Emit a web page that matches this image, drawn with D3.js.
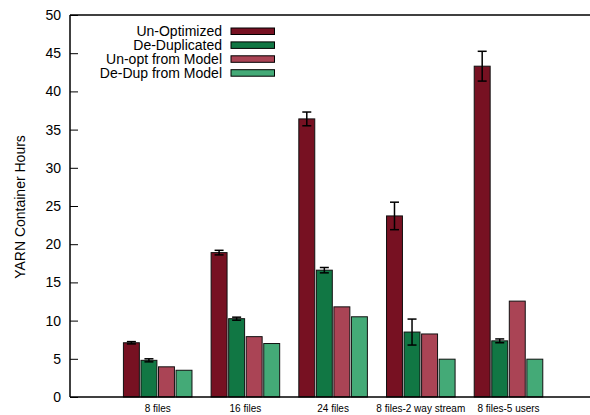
<!DOCTYPE html>
<html>
<head>
<meta charset="utf-8">
<script src="https://cdn.jsdelivr.net/npm/d3@7"></script>
<style>
  html, body { margin: 0; padding: 0; background: #fff; }
  svg { display: block; font-family: "Liberation Sans", Arial, Helvetica, sans-serif; }
</style>
</head>
<body>
<svg id="chart" width="590" height="415"></svg>
<script>
// Workload categories along the x axis
const categories = ["8 files", "16 files", "24 files", "8 files-2 way stream", "8 files-5 users"];

// Series names and their container-hour values (with error half-widths)
const seriesNames = ["Un-Optimized", "De-Duplicated", "Un-opt from Model", "De-Dup from Model"];
const unOptimized   = [7.1, 18.9, 36.4, 23.7, 43.3];
const unOptErr      = [0.15, 0.3, 0.9, 1.8, 1.95];
const deDuplicated  = [4.8, 10.25, 16.6, 8.5, 7.35];
const deDupErr      = [0.2, 0.2, 0.35, 1.7, 0.25];
const unOptModel    = [3.95, 7.9, 11.8, 8.25, 12.55];
const deDupModel    = [3.5, 7.0, 10.5, 4.95, 4.95];

const yTicks = [0, 5, 10, 15, 20, 25, 30, 35, 40, 45, 50];
const colors = ["#771122", "#117744", "#aa4455", "#44aa77"];

const series = [
  { name: seriesNames[0], values: unOptimized, errors: unOptErr },
  { name: seriesNames[1], values: deDuplicated, errors: deDupErr },
  { name: seriesNames[2], values: unOptModel, errors: null },
  { name: seriesNames[3], values: deDupModel, errors: null }
];

const svg = d3.select("#chart");
const plotLeft = 70, plotTop = 15, plotBottom = 397;

// x is a numeric category index; the frame spans index -1 to 5
const x = d3.scaleLinear().domain([-1, 5]).range([plotLeft, 596.2]);
const y = d3.scaleLinear().domain([0, 50]).range([plotBottom, plotTop]);
const barUnits = 0.2;
const offsets = [-0.3, -0.1, 0.1, 0.3];

// Bars
series.forEach((s, si) => {
  const g = svg.append("g");
  g.selectAll("rect")
    .data(s.values)
    .join("rect")
    .attr("x", (d, i) => x(i + offsets[si] - barUnits / 2) + 0.8)
    .attr("width", x(barUnits) - x(0) - 1.6)
    .attr("y", d => y(d))
    .attr("height", d => y(0) - y(d))
    .attr("fill", colors[si])
    .attr("stroke", "#111")
    .attr("stroke-width", 1);
});

// Error bars
series.forEach((s, si) => {
  if (!s.errors) return;
  const g = svg.append("g").attr("stroke", "#000").attr("stroke-width", 1.5);
  s.values.forEach((v, i) => {
    const cx = x(i + offsets[si]);
    const e = s.errors[i];
    const y1 = y(v + e), y2 = y(v - e);
    g.append("line").attr("x1", cx).attr("x2", cx).attr("y1", y1).attr("y2", y2);
    g.append("line").attr("x1", cx - 4.5).attr("x2", cx + 4.5).attr("y1", y1).attr("y2", y1);
    g.append("line").attr("x1", cx - 4.5).attr("x2", cx + 4.5).attr("y1", y2).attr("y2", y2);
  });
});

// Frame: left, top and bottom lines
const frame = svg.append("g").attr("stroke", "#000").attr("stroke-width", 1.5).attr("fill", "none");
frame.append("line").attr("x1", plotLeft).attr("x2", plotLeft).attr("y1", plotTop).attr("y2", plotBottom);
frame.append("line").attr("x1", plotLeft).attr("x2", 596).attr("y1", plotTop).attr("y2", plotTop);
frame.append("line").attr("x1", plotLeft).attr("x2", 596).attr("y1", plotBottom).attr("y2", plotBottom);

// Y axis with inward ticks
const yAxis = d3.axisLeft(y).tickValues(yTicks).tickSize(-8).tickPadding(9).tickFormat(d3.format("d"));
const yg = svg.append("g").attr("transform", `translate(${plotLeft},0)`).call(yAxis);
yg.select(".domain").remove();
yg.selectAll(".tick line").attr("stroke", "#000").attr("stroke-width", 1);
yg.selectAll(".tick text")
  .attr("font-size", 14)
  .attr("font-family", "Liberation Sans, Arial, sans-serif")
  .attr("fill", "#000");

// Category labels
svg.append("g").selectAll("text")
  .data(categories)
  .join("text")
  .attr("x", (d, i) => x(i))
  .attr("y", 412)
  .attr("text-anchor", "middle")
  .attr("font-size", 10)
  .attr("fill", "#000")
  .text(d => d);

// Y axis title
svg.append("text")
  .attr("transform", "translate(25,207) rotate(-90)")
  .attr("text-anchor", "middle")
  .attr("font-size", 14)
  .attr("fill", "#000")
  .text("YARN Container Hours");

// Legend
const legend = svg.append("g");
seriesNames.forEach((name, i) => {
  const cy = 31 + i * 13.9;
  legend.append("text")
    .attr("x", 222)
    .attr("y", cy + 5)
    .attr("text-anchor", "end")
    .attr("font-size", 14)
    .attr("fill", "#000")
    .text(name);
  legend.append("rect")
    .attr("x", 231)
    .attr("y", cy - 3)
    .attr("width", 43.5)
    .attr("height", 6.5)
    .attr("fill", colors[i])
    .attr("stroke", "#000")
    .attr("stroke-width", 1);
});
</script>
</body>
</html>
